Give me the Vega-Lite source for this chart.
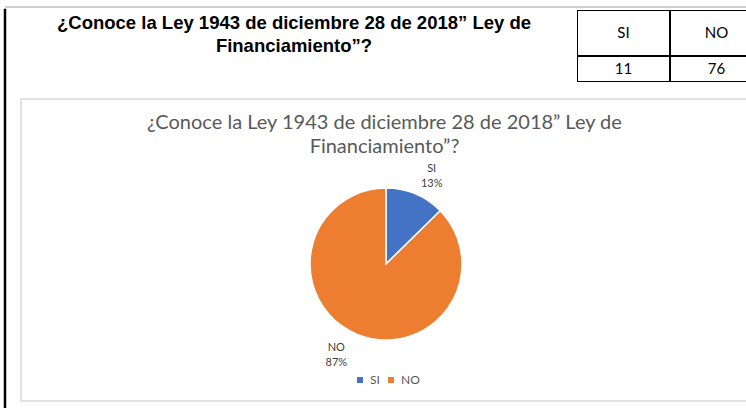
{
  "$schema": "https://vega.github.io/schema/vega-lite/v6.json",
  "padding": {"left": 3, "top": 6, "right": 0, "bottom": 0},
  "background": "white",
  "config": {"view": {"stroke": null}, "concat": {"spacing": 0}},
  "datasets": {
    "respuestas": [
      {"opcion": "SI", "respuestas": 11, "etiqueta": "SI\n13%"},
      {"opcion": "NO", "respuestas": 76, "etiqueta": "NO\n87%"}
    ],
    "pregunta": [
      {"texto": "¿Conoce la Ley 1943 de diciembre 28 de 2018” Ley de\nFinanciamiento”?"}
    ]
  },
  "vconcat": [
    {
      "width": 743,
      "height": 2,
      "view": {"fill": "#d0d0d0", "stroke": null},
      "data": {"name": "pregunta"},
      "mark": {"type": "rule", "color": "#d0d0d0", "strokeWidth": 1.5},
      "encoding": {"y": {"value": 1}}
    },
    {
      "hconcat": [
        {
          "width": 0.001,
          "height": 400,
          "view": {"stroke": "black", "strokeWidth": 2.5},
          "data": {"name": "pregunta"},
          "mark": {"type": "point", "opacity": 0, "size": 0},
          "encoding": {}
        },
        {
          "vconcat": [
            {
              "hconcat": [
                {
                  "width": 530,
                  "height": 72,
                  "data": {"name": "pregunta"},
                  "mark": {
                    "type": "text",
                    "font": "Liberation Sans",
                    "fontWeight": "bold",
                    "fontSize": 18.5,
                    "lineBreak": "\n",
                    "lineHeight": 23,
                    "align": "center",
                    "baseline": "middle",
                    "dx": 8,
                    "dy": -23,
                    "color": "black"
                  },
                  "encoding": {"text": {"field": "texto"}}
                },
                {
                  "vconcat": [
                    {
                      "width": 169,
                      "height": 46,
                      "data": {"name": "respuestas"},
                      "encoding": {
                        "x": {
                          "field": "opcion",
                          "type": "nominal",
                          "sort": ["SI", "NO"],
                          "scale": {"range": [0, 186], "paddingInner": 0, "paddingOuter": 0},
                          "axis": null
                        }
                      },
                      "layer": [
                        {"mark": {"type": "rect", "fill": "white", "stroke": "black", "strokeWidth": 2, "clip": true}},
                        {
                          "mark": {"type": "text", "font": "Lato", "fontSize": 15, "color": "black", "clip": true},
                          "encoding": {"text": {"field": "opcion"}}
                        }
                      ]
                    },
                    {
                      "width": 169,
                      "height": 26,
                      "data": {"name": "respuestas"},
                      "encoding": {
                        "x": {
                          "field": "opcion",
                          "type": "nominal",
                          "sort": ["SI", "NO"],
                          "scale": {"range": [0, 186], "paddingInner": 0, "paddingOuter": 0},
                          "axis": null
                        }
                      },
                      "layer": [
                        {"mark": {"type": "rect", "fill": "white", "stroke": "black", "strokeWidth": 2, "clip": true}},
                        {
                          "mark": {"type": "text", "font": "Lato", "fontSize": 15, "color": "black", "clip": true},
                          "encoding": {"text": {"field": "respuestas"}}
                        }
                      ]
                    }
                  ],
                  "spacing": 0
                }
              ],
              "spacing": 26
            },
            {
              "width": 727,
              "height": 302,
              "view": {"stroke": "#d9d9d9", "strokeWidth": 1.5},
              "title": {
                "text": ["¿Conoce la Ley 1943 de diciembre 28 de 2018” Ley de", "Financiamiento”?"],
                "font": "Lato",
                "fontSize": 20,
                "fontWeight": "normal",
                "color": "#595959",
                "offset": -58,
                "anchor": "middle",
                "lineHeight": 24
              },
              "data": {"name": "respuestas"},
              "encoding": {
                "theta": {"field": "respuestas", "type": "quantitative", "stack": true},
                "order": {"field": "respuestas", "sort": "ascending"}
              },
              "layer": [
                {
                  "mark": {"type": "arc", "outerRadius": 76, "stroke": "white", "strokeWidth": 1.5, "xOffset": 1.5, "yOffset": 14},
                  "encoding": {
                    "color": {
                      "field": "opcion",
                      "type": "nominal",
                      "scale": {"domain": ["SI", "NO"], "range": ["#4472C4", "#ED7D31"]},
                      "legend": {
                        "orient": "none",
                        "legendX": 349,
                        "legendY": 368,
                        "direction": "horizontal",
                        "title": null,
                        "symbolType": "square",
                        "symbolSize": 36,
                        "symbolStrokeWidth": 0,
                        "labelFont": "Lato",
                        "labelFontSize": 12,
                        "labelColor": "#595959",
                        "labelOffset": 4,
                        "columnPadding": 5
                      }
                    }
                  }
                },
                {
                  "mark": {
                    "type": "text",
                    "radius": 100,
                    "xOffset": 1.5,
                    "yOffset": 14,
                    "dx": 7,
                    "dy": -3,
                    "font": "Lato",
                    "fontSize": 11,
                    "lineBreak": "\n",
                    "lineHeight": 15,
                    "color": "#404040"
                  },
                  "encoding": {
                    "text": {"condition": {"test": "datum.opcion === 'SI'", "field": "etiqueta"}, "value": ""}
                  }
                },
                {
                  "mark": {
                    "type": "text",
                    "radius": 100,
                    "xOffset": 1.5,
                    "yOffset": 14,
                    "dx": -11,
                    "dy": -8,
                    "font": "Lato",
                    "fontSize": 11,
                    "lineBreak": "\n",
                    "lineHeight": 15,
                    "color": "#404040"
                  },
                  "encoding": {
                    "text": {"condition": {"test": "datum.opcion === 'NO'", "field": "etiqueta"}, "value": ""}
                  }
                }
              ]
            }
          ],
          "spacing": 16
        }
      ],
      "spacing": 13
    }
  ],
  "spacing": 0
}
